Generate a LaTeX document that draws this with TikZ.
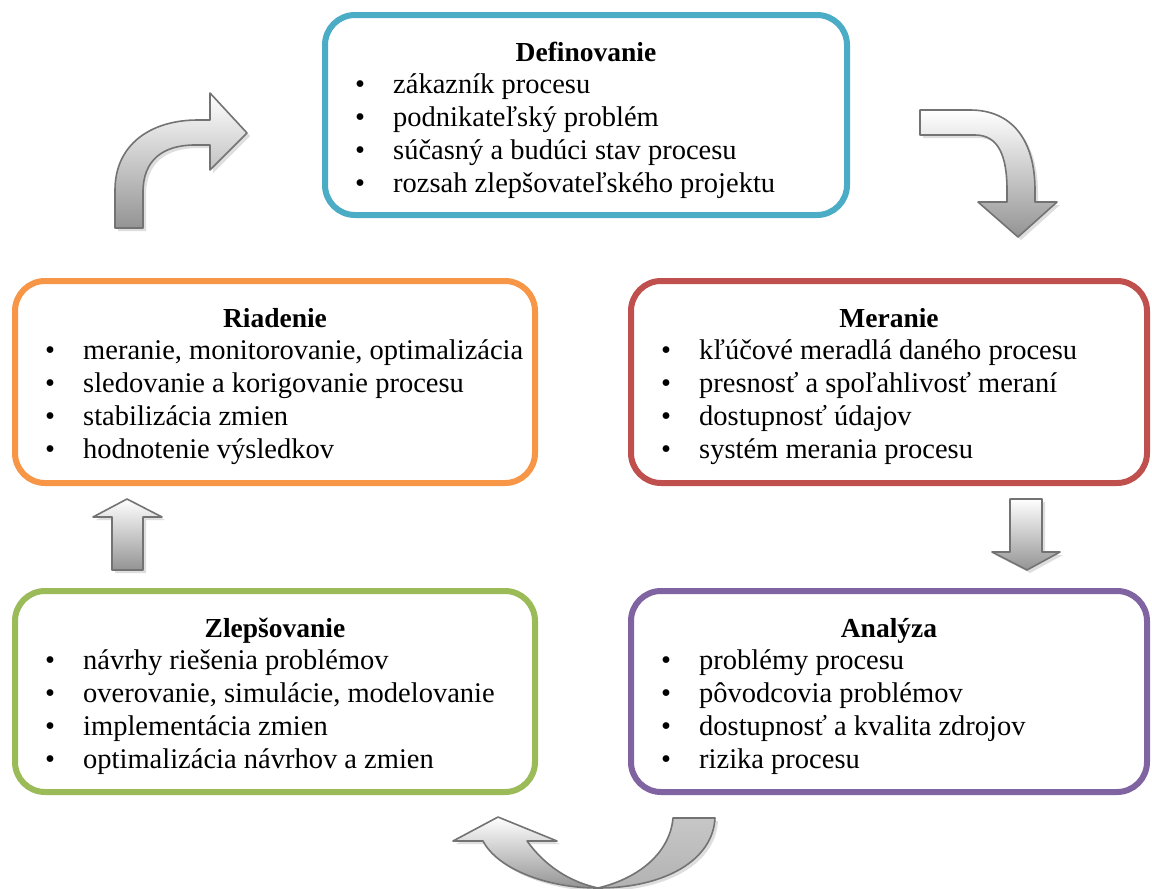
\documentclass[tikz,border=0pt]{standalone}
\usepackage{fontspec}
\setmainfont{Liberation Serif}
\usetikzlibrary{calc}

\definecolor{cDef}{HTML}{4BACC6}
\definecolor{cMer}{HTML}{C0504D}
\definecolor{cAna}{HTML}{8064A2}
\definecolor{cZle}{HTML}{9BBB59}
\definecolor{cRia}{HTML}{F79646}

\tikzset{
  pbox/.style={draw, rounded corners=30pt, line width=6pt, outer sep=0pt, fill=white},
  titletext/.style={anchor=base, inner sep=0pt, font=\fontsize{27.5}{33}\selectfont\bfseries},
  bullettext/.style={anchor=base, inner sep=0pt, font=\fontsize{28.5}{33}\selectfont},
  itemtext/.style={anchor=base west, inner sep=0pt, font=\fontsize{28.5}{33}\selectfont},
  blockarrow/.style={draw=black!55, line width=1.6pt, line join=round, top color=white, bottom color=black!42},
  backarrow/.style={draw=black!55, line width=1.6pt, line join=round, top color=black!22, bottom color=black!30},
  arrowshadow/.style={fill=black!25, opacity=0.5, shift={(3,3)}},
}

% title and bullet lines placed inside a process box
\newcommand\boxtext[3]{%
  \node[titletext] (#1-t) at ($(#1.north)+(0,46)$) {#2};
  \foreach \itm [count=\idx] in {#3} {
    \node[bullettext] (#1-b\idx) at ($(#1.north west)+(35,45+33*\idx)$) {\textbullet};
    \node[itemtext] (#1-i\idx) at ($(#1.north west)+(68,45+33*\idx)$) {\itm};
  }%
}

% outlines of the block arrows
\def\arrowUpRight{(115,228) -- (115,190) .. controls (115,145) and (150,120) .. (198,120) -- (210,120) -- (210,93) -- (247,133) -- (210,170) -- (210,145) -- (195,145) .. controls (163,145) and (143,160) .. (143,192) -- (143,228) -- cycle}
\def\arrowRightDown{(920,110) -- (970,110) .. controls (1012,110) and (1035,140) .. (1035,190) -- (1035,202) -- (1057,202) -- (1018,237) -- (978,202) -- (1007,202) -- (1007,190) .. controls (1007,155) and (998,135) .. (975,135) -- (920,135) -- cycle}
\def\arrowDown{(1010,499) -- (1042,499) -- (1042,552) -- (1060,552) -- (1027,570) -- (992,552) -- (1010,552) -- cycle}
\def\arrowUp{(112,570) -- (143,570) -- (143,517) -- (162,517) -- (127,499) -- (93,517) -- (112,517) -- cycle}
\def\arrowTurnBack{(673,818) -- (715,818) .. controls (713,860) and (665,888) .. (598,888) .. controls (640,878) and (670,852) .. (673,818) -- cycle}
\def\arrowTurnFront{(598,888) .. controls (545,888) and (497,868) .. (483,841) -- (453,841) -- (498,817) -- (557,841) -- (527,841) .. controls (545,866) and (570,882) .. (598,888) -- cycle}

\begin{document}
\begin{tikzpicture}[x=1pt, y=-1pt]
  \useasboundingbox[fill=white] (0,0) rectangle (1152,889);

  % process boxes
  \node[pbox, draw=cDef, minimum width=522pt, minimum height=200pt] (def) at (586,115) {};
  \node[pbox, draw=cRia, minimum width=520pt, minimum height=202pt] (ria) at (275,382) {};
  \node[pbox, draw=cMer, minimum width=516pt, minimum height=202pt] (mer) at (889,382) {};
  \node[pbox, draw=cZle, minimum width=520pt, minimum height=201pt] (zle) at (275,691.5) {};
  \node[pbox, draw=cAna, minimum width=516pt, minimum height=201pt] (ana) at (889,691.5) {};

  \boxtext{def}{Definovanie}{zákazník procesu, podnikateľský problém, súčasný a budúci stav procesu, rozsah zlepšovateľského projektu}
  \boxtext{ria}{Riadenie}{{meranie, monitorovanie, optimalizácia}, sledovanie a korigovanie procesu, stabilizácia zmien, hodnotenie výsledkov}
  \boxtext{mer}{Meranie}{kľúčové meradlá daného procesu, presnosť a spoľahlivosť meraní, dostupnosť údajov, systém merania procesu}
  \boxtext{zle}{Zlepšovanie}{návrhy riešenia problémov, {overovanie, simulácie, modelovanie}, implementácia zmien, optimalizácia návrhov a zmien}
  \boxtext{ana}{Analýza}{problémy procesu, pôvodcovia problémov, dostupnosť a kvalita zdrojov, rizika procesu}

  % block arrows between the phases
  \fill[arrowshadow] \arrowUpRight;
  \path[blockarrow] \arrowUpRight;
  \fill[arrowshadow] \arrowRightDown;
  \path[blockarrow] \arrowRightDown;
  \fill[arrowshadow] \arrowDown;
  \path[blockarrow] \arrowDown;
  \fill[arrowshadow] \arrowUp;
  \path[blockarrow] \arrowUp;
  \fill[arrowshadow] \arrowTurnBack;
  \fill[arrowshadow] \arrowTurnFront;
  \path[backarrow] \arrowTurnBack;
  \path[blockarrow] \arrowTurnFront;
\end{tikzpicture}
\end{document}
